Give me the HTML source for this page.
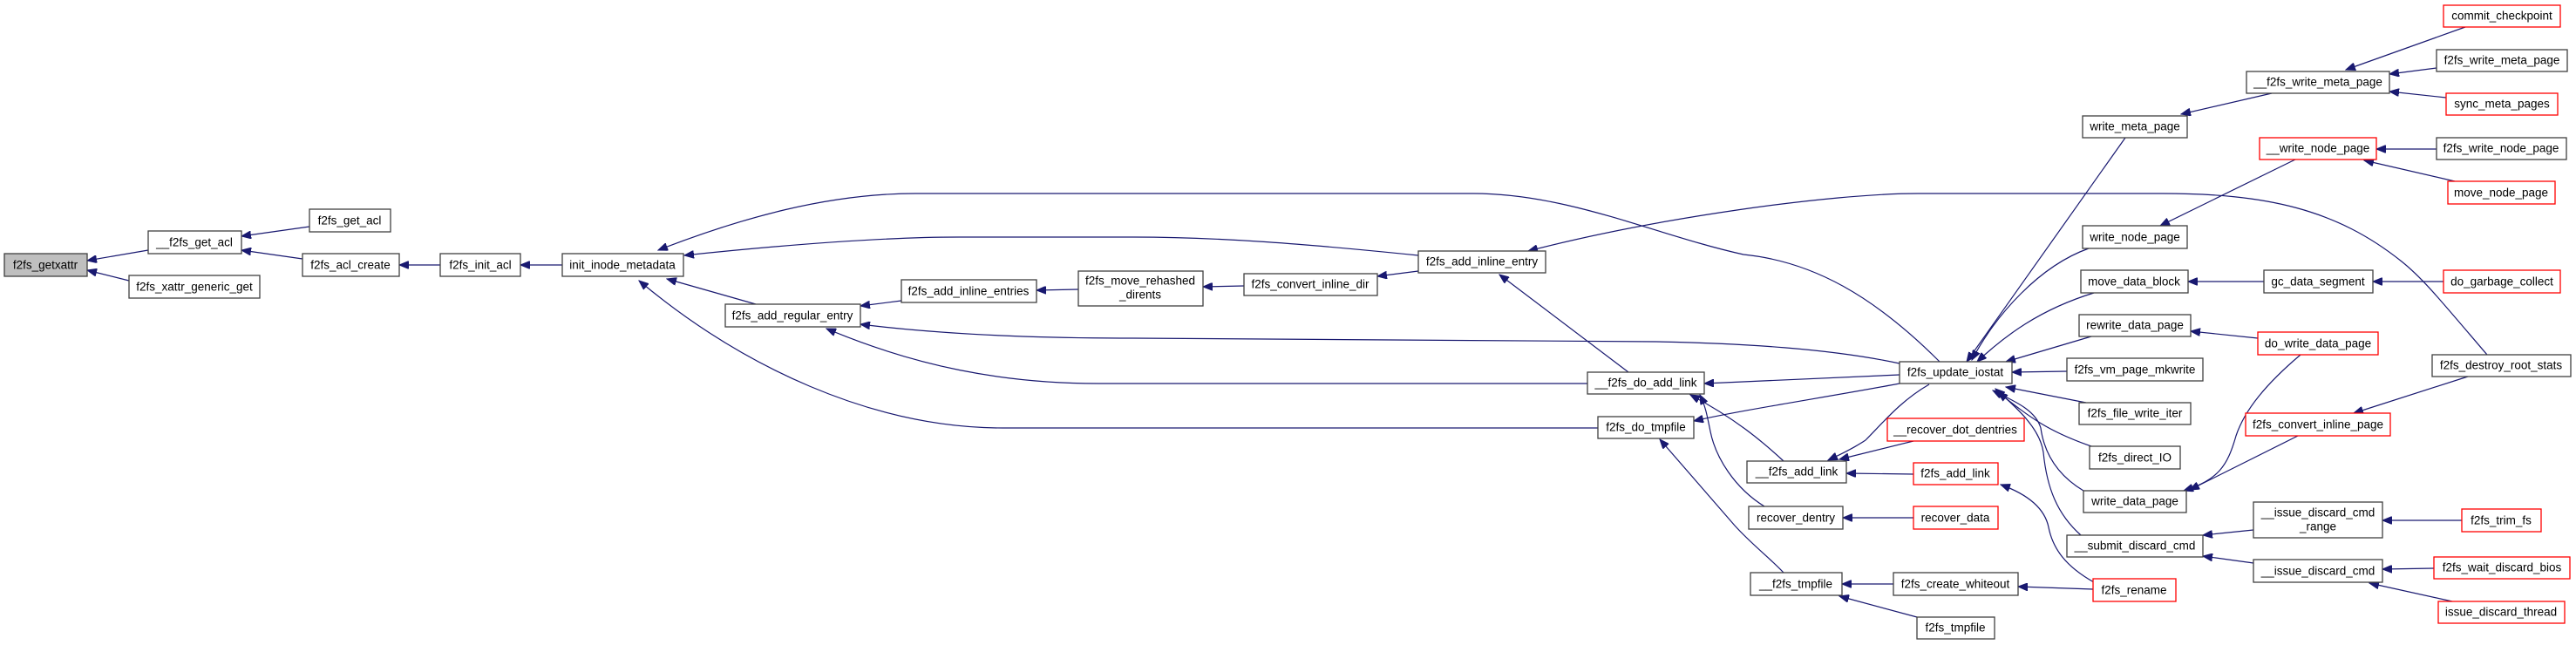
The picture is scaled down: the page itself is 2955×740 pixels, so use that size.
<!DOCTYPE html>
<html><head><meta charset="utf-8"><style>
html,body{margin:0;padding:0;background:#fff;}
svg{display:block;}
text{font-family:"Liberation Sans",Arial,sans-serif;font-size:13.5px;fill:#000;text-anchor:middle;dominant-baseline:central;}
.n{fill:#fff;stroke:#404040;stroke-width:1.3;}
.r{fill:#fff;stroke:#ff0000;stroke-width:1.3;}
.g{fill:#bfbfbf;stroke:#404040;stroke-width:1.3;}
.e{fill:none;stroke:#191970;stroke-width:1.2;marker-end:url(#a);}
</style></head><body>
<svg width="2955" height="740" viewBox="0 0 2955 740" xmlns="http://www.w3.org/2000/svg">
<defs><marker id="a" markerUnits="userSpaceOnUse" markerWidth="12" markerHeight="9" refX="11" refY="4.5" orient="auto"><path d="M0,0 L11,4.5 L0,9 z" fill="#191970" stroke="#191970"/></marker></defs>

<!-- edges -->
<path class="e" d="M170,287 L100,299"/>
<path class="e" d="M148,322 L100,310"/>
<path class="e" d="M355,260 L277,271"/>
<path class="e" d="M347,297 L277,287"/>
<path class="e" d="M505,304 L458,304"/>
<path class="e" d="M645,304 L597,304"/>
<path class="e" d="M2225,415 C2150,340 2080,300 2000,292 C1900,270 1800,222 1690,222 L1050,222 C950,222 850,250 755,287"/>
<path class="e" d="M1627,293 C1500,280 1400,272 1300,272 L1100,272 C1000,272 880,283 785,293"/>
<path class="e" d="M867,349 L765,320"/>
<path class="e" d="M1833,491 L1150,491 C1000,491 850,420 733,322"/>
<path class="e" d="M1034,345 L987,351"/>
<path class="e" d="M2179,417 C2100,400 2000,394 1900,392 L1300,388 C1150,388 1050,380 987,372"/>
<path class="e" d="M1821,440 L1260,440 C1150,440 1050,420 948,377"/>
<path class="e" d="M1237,332 L1380,332" style="marker-end:none"/>
<path class="e" d="M1237,332 L1189,333"/>
<path class="e" d="M1427,328 L1380,329"/>
<path class="e" d="M1627,311 L1580,317"/>
<path class="e" d="M1868,427 L1720,315"/>
<path class="e" d="M2853,407 C2800,345 2780,320 2755,300 C2680,240 2600,222 2480,222 L2200,222 C2100,222 1900,250 1753,288"/>
<path class="e" d="M2179,430 L1955,440"/>
<path class="e" d="M2179,440 C2100,455 2000,470 1943,483"/>
<path class="e" d="M2046,529 C2020,505 1990,480 1939,453"/>
<path class="e" d="M2024,581 C1990,560 1968,525 1962,495 C1958,475 1956,465 1950,453"/>
<path class="e" d="M2046,657 C2030,640 2010,625 1990,603 L1904,504"/>
<path class="e" d="M2213,441 C2180,460 2160,485 2140,505 C2125,515 2110,522 2097,528"/>
<path class="e" d="M2195,506 L2110,527"/>
<path class="e" d="M2195,544 L2118,543"/>
<path class="e" d="M2402,668 C2370,650 2355,630 2350,605 C2345,580 2320,565 2295,556"/>
<path class="e" d="M2195,594 L2114,594"/>
<path class="e" d="M2172,670 L2113,670"/>
<path class="e" d="M2199,708 L2110,684"/>
<path class="e" d="M2401,676 L2315,673"/>
<path class="e" d="M2438,158 L2256,415"/>
<path class="e" d="M2396,285 C2340,305 2290,360 2262,413"/>
<path class="e" d="M2402,336 C2340,355 2300,385 2268,415"/>
<path class="e" d="M2399,386 L2301,415"/>
<path class="e" d="M2371,426 L2308,427"/>
<path class="e" d="M2393,462 L2301,444"/>
<path class="e" d="M2399,512 C2350,495 2330,480 2292,450"/>
<path class="e" d="M2390,563 C2360,545 2345,520 2341,491 C2335,470 2310,460 2286,448"/>
<path class="e" d="M2387,614 C2360,590 2348,560 2344,519 C2340,490 2310,465 2289,446"/>
<path class="e" d="M2606,107 L2502,131"/>
<path class="e" d="M2828,31 L2691,80"/>
<path class="e" d="M2795,78 L2741,85"/>
<path class="e" d="M2806,112 L2741,105"/>
<path class="e" d="M2633,183 L2478,259"/>
<path class="e" d="M2795,171 L2726,171"/>
<path class="e" d="M2816,208 L2712,184"/>
<path class="e" d="M2597,323 L2510,323"/>
<path class="e" d="M2803,323 L2722,323"/>
<path class="e" d="M2590,388 L2513,380"/>
<path class="e" d="M2639,407 C2600,440 2575,470 2565,500 C2555,535 2545,550 2505,563"/>
<path class="e" d="M2636,500 L2512,562"/>
<path class="e" d="M2831,432 L2700,474"/>
<path class="e" d="M2585,608 L2527,614"/>
<path class="e" d="M2585,646 L2527,638"/>
<path class="e" d="M2824,597 L2733,597"/>
<path class="e" d="M2792,652 L2733,653"/>
<path class="e" d="M2813,690 L2718,669"/>

<!-- nodes -->
<rect class="g" x="5" y="291" width="95" height="26"/><text x="52" y="304">f2fs_getxattr</text>
<rect class="n" x="170" y="265" width="107" height="26"/><text x="223" y="278">__f2fs_get_acl</text>
<rect class="n" x="148" y="316" width="150" height="26"/><text x="223" y="329">f2fs_xattr_generic_get</text>
<rect class="n" x="355" y="240" width="93" height="26"/><text x="401" y="253">f2fs_get_acl</text>
<rect class="n" x="347" y="291" width="111" height="26"/><text x="402" y="304">f2fs_acl_create</text>
<rect class="n" x="505" y="291" width="92" height="26"/><text x="551" y="304">f2fs_init_acl</text>
<rect class="n" x="645" y="291" width="139" height="26"/><text x="714" y="304">init_inode_metadata</text>
<rect class="n" x="832" y="349" width="155" height="26"/><text x="909" y="362">f2fs_add_regular_entry</text>
<rect class="n" x="1034" y="321" width="155" height="26"/><text x="1111" y="334">f2fs_add_inline_entries</text>
<rect class="n" x="1237" y="311" width="143" height="40"/><text x="1308" y="322">f2fs_move_rehashed</text><text x="1308" y="338">_dirents</text>
<rect class="n" x="1427" y="314" width="153" height="25"/><text x="1503" y="326">f2fs_convert_inline_dir</text>
<rect class="n" x="1627" y="288" width="146" height="25"/><text x="1700" y="300">f2fs_add_inline_entry</text>
<rect class="n" x="1821" y="427" width="134" height="25"/><text x="1888" y="439">__f2fs_do_add_link</text>
<rect class="n" x="1833" y="478" width="110" height="25"/><text x="1888" y="490">f2fs_do_tmpfile</text>

<rect class="r" x="2803" y="6" width="134" height="25"/><text x="2870" y="18">commit_checkpoint</text>
<rect class="n" x="2795" y="57" width="150" height="25"/><text x="2870" y="69">f2fs_write_meta_page</text>
<rect class="n" x="2577" y="82" width="164" height="25"/><text x="2659" y="94">__f2fs_write_meta_page</text>
<rect class="r" x="2806" y="107" width="128" height="25"/><text x="2870" y="119">sync_meta_pages</text>
<rect class="n" x="2389" y="133" width="120" height="25"/><text x="2449" y="145">write_meta_page</text>
<rect class="r" x="2592" y="158" width="134" height="25"/><text x="2659" y="170">__write_node_page</text>
<rect class="n" x="2795" y="158" width="149" height="25"/><text x="2869" y="170">f2fs_write_node_page</text>
<rect class="r" x="2808" y="208" width="123" height="26"/><text x="2869" y="221">move_node_page</text>
<rect class="n" x="2389" y="259" width="120" height="26"/><text x="2449" y="272">write_node_page</text>
<rect class="n" x="2387" y="310" width="123" height="26"/><text x="2448" y="323">move_data_block</text>
<rect class="n" x="2597" y="310" width="125" height="26"/><text x="2659" y="323">gc_data_segment</text>
<rect class="r" x="2803" y="310" width="134" height="26"/><text x="2870" y="323">do_garbage_collect</text>
<rect class="n" x="2385" y="361" width="128" height="25"/><text x="2449" y="373">rewrite_data_page</text>
<rect class="r" x="2590" y="381" width="138" height="26"/><text x="2659" y="394">do_write_data_page</text>
<rect class="n" x="2790" y="407" width="159" height="25"/><text x="2869" y="419">f2fs_destroy_root_stats</text>
<rect class="n" x="2179" y="415" width="129" height="25"/><text x="2243" y="427">f2fs_update_iostat</text>
<rect class="n" x="2371" y="411" width="156" height="26"/><text x="2449" y="424">f2fs_vm_page_mkwrite</text>
<rect class="n" x="2385" y="462" width="128" height="25"/><text x="2449" y="474">f2fs_file_write_iter</text>
<rect class="r" x="2576" y="474" width="166" height="26"/><text x="2659" y="487">f2fs_convert_inline_page</text>
<rect class="r" x="2165" y="480" width="157" height="26"/><text x="2243" y="493">__recover_dot_dentries</text>
<rect class="n" x="2397" y="512" width="104" height="26"/><text x="2449" y="525">f2fs_direct_IO</text>
<rect class="n" x="2004" y="529" width="114" height="25"/><text x="2061" y="541">__f2fs_add_link</text>
<rect class="r" x="2195" y="531" width="97" height="25"/><text x="2243" y="543">f2fs_add_link</text>
<rect class="n" x="2390" y="563" width="118" height="25"/><text x="2449" y="575">write_data_page</text>
<rect class="n" x="2585" y="576" width="148" height="41"/><text x="2659" y="588">__issue_discard_cmd</text><text x="2659" y="604">_range</text>
<rect class="n" x="2006" y="581" width="108" height="26"/><text x="2060" y="594">recover_dentry</text>
<rect class="r" x="2195" y="581" width="97" height="26"/><text x="2243" y="594">recover_data</text>
<rect class="r" x="2824" y="584" width="91" height="26"/><text x="2869" y="597">f2fs_trim_fs</text>
<rect class="n" x="2371" y="614" width="156" height="25"/><text x="2449" y="626">__submit_discard_cmd</text>
<rect class="n" x="2585" y="642" width="148" height="26"/><text x="2659" y="655">__issue_discard_cmd</text>
<rect class="r" x="2792" y="639" width="156" height="25"/><text x="2870" y="651">f2fs_wait_discard_bios</text>
<rect class="n" x="2008" y="657" width="105" height="26"/><text x="2060" y="670">__f2fs_tmpfile</text>
<rect class="n" x="2172" y="657" width="143" height="26"/><text x="2243" y="670">f2fs_create_whiteout</text>
<rect class="r" x="2401" y="664" width="95" height="26"/><text x="2448" y="677">f2fs_rename</text>
<rect class="r" x="2797" y="690" width="145" height="25"/><text x="2869" y="702">issue_discard_thread</text>
<rect class="n" x="2199" y="708" width="89" height="25"/><text x="2243" y="720">f2fs_tmpfile</text>
</svg>
</body></html>
